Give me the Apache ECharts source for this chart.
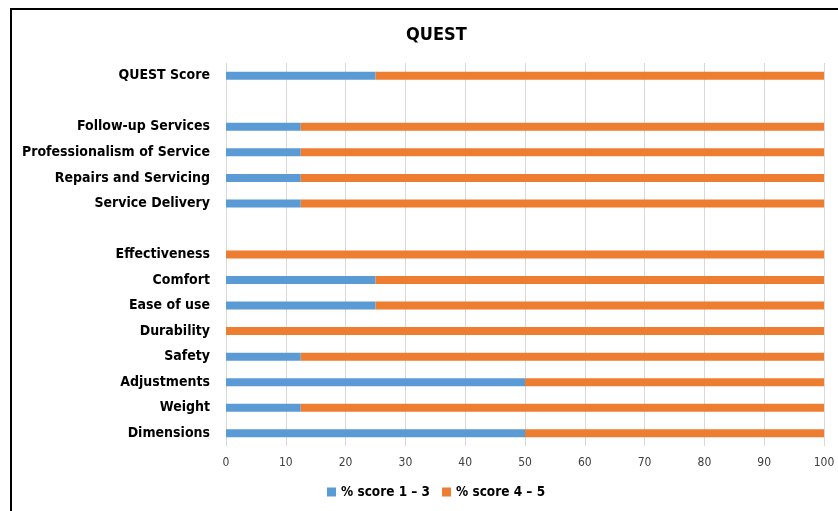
<!DOCTYPE html>
<html>
<head>
<meta charset="utf-8">
<script src="https://cdn.jsdelivr.net/npm/echarts@6/dist/echarts.min.js"></script>
<style>
  html, body { margin: 0; padding: 0; background: #fff; }
  #frame { position: absolute; left: 10px; top: 8px; width: 828px; height: 503px;
           border-left: 2px solid #000; border-top: 2px solid #000; }
  #chart { position: absolute; left: 0; top: 0; width: 838px; height: 511px; }
</style>
</head>
<body>
<div id="frame"></div>
<div id="chart"></div>
<script>
// QUEST domains, bottom to top; empty names are spacer rows between groups
const categories = [
  'Dimensions', 'Weight', 'Adjustments', 'Safety', 'Durability', 'Ease of use',
  'Comfort', 'Effectiveness', '', 'Service Delivery', 'Repairs and Servicing',
  'Professionalism of Service', 'Follow-up Services', ' ', 'QUEST Score'
];
// percentage of users scoring 1–3 and 4–5 per domain
const lowScore  = [50, 12.5, 50, 12.5, 0, 25, 25, 0, null, 12.5, 12.5, 12.5, 12.5, null, 25];
const highScore = [50, 87.5, 50, 87.5, 100, 75, 75, 100, null, 87.5, 87.5, 87.5, 87.5, null, 75];
const xTicks = [0, 10, 20, 30, 40, 50, 60, 70, 80, 90, 100];
const seriesNames = ['% score 1 – 3', '% score 4 – 5'];

const narrow = '"DejaVu Sans Condensed", "Liberation Sans Narrow", sans-serif';
const chart = echarts.init(document.getElementById('chart'), null, { renderer: 'canvas' });
chart.setOption({
  animation: false,
  title: {
    text: 'QUEST', left: 401, top: 21,
    textStyle: { fontFamily: narrow, fontWeight: 'bold', fontSize: 18, color: '#000' }
  },
  legend: {
    bottom: 7, left: 322, itemWidth: 9, itemHeight: 9, itemGap: 12,
    icon: 'rect',
    textStyle: { fontFamily: narrow, fontWeight: 'bold', fontSize: 13.5, color: '#000' },
    data: seriesNames
  },
  grid: { left: 226, right: 14, top: 63, bottom: 65, containLabel: false },
  xAxis: {
    type: 'value', min: xTicks[0], max: xTicks[xTicks.length - 1], interval: 10,
    axisLine: { show: false }, axisTick: { show: false },
    splitLine: { show: true, lineStyle: { color: '#d9d9d9', width: 1 } },
    axisLabel: { fontFamily: narrow, fontSize: 12, color: '#404040', margin: 11 }
  },
  yAxis: {
    type: 'category', data: categories,
    axisLine: { show: false }, axisTick: { show: false },
    axisLabel: { fontFamily: narrow, fontWeight: 'bold', fontSize: 14, color: '#000', margin: 16 }
  },
  series: [
    { name: seriesNames[0], type: 'bar', stack: 'q', data: lowScore, barWidth: 8,
      itemStyle: { color: '#5b9bd5' } },
    { name: seriesNames[1], type: 'bar', stack: 'q', data: highScore, barWidth: 8,
      itemStyle: { color: '#ed7d31' } }
  ]
});
</script>
</body>
</html>
